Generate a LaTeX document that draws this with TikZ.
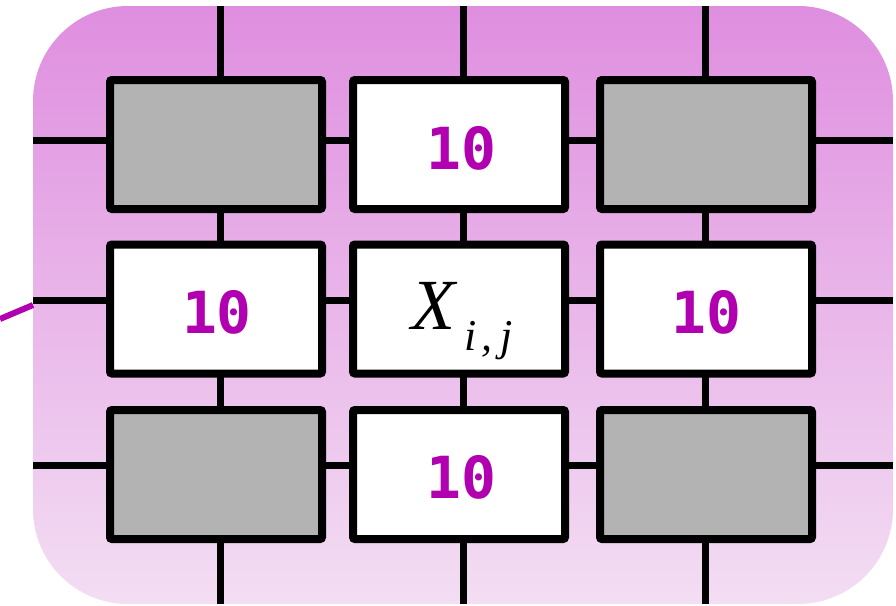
\documentclass[tikz,border=0pt]{standalone}
\usepackage{fontspec}
\setmainfont{Liberation Serif}
\newfontfamily\monofont{DejaVu Sans Mono}
\definecolor{bgtop}{RGB}{223,142,223}
\definecolor{bgbot}{RGB}{243,222,243}
\definecolor{cellgray}{RGB}{179,179,179}
\definecolor{mag}{RGB}{176,0,176}
\tikzset{
  cell/.style={draw=black, line width=8pt, rounded corners=2pt, minimum width=212pt, minimum height=129pt, inner sep=0pt, fill=white},
  graycell/.style={cell, fill=cellgray},
  gridline/.style={draw=black, line width=7pt},
  magline/.style={draw=mag, line width=6pt},
  ten/.style={text=mag, font=\monofont\bfseries\fontsize{58}{60}\selectfont}
}
\begin{document}
\begin{tikzpicture}[x=1pt,y=-1pt]
\useasboundingbox (0,0) rectangle (896,605);
\shade[top color=bgtop, bottom color=bgbot, rounded corners=95pt] (33,6) rectangle (893,604);
% grid lines
\foreach \yy in {140,300,465} {\draw[gridline] (33,\yy) -- (893,\yy);}
\foreach \xx in {220,463,705} {\draw[gridline] (\xx,6) -- (\xx,604);}
% left magenta line
\coordinate (m0) at (0,319);
\coordinate (m1) at (33,305);
\draw[magline] (m0) -- (m1);
% cells
\node[graycell] (c11) at (216,144.5) {};
\node[cell]     (c12) at (459,144.5) {};
\node[graycell] (c13) at (706,144.5) {};
\node[cell]     (c21) at (216,309) {};
\node[cell]     (c22) at (459,309) {};
\node[cell]     (c23) at (706,309) {};
\node[graycell] (c31) at (216,474.5) {};
\node[cell]     (c32) at (459,474.5) {};
\node[graycell] (c33) at (706,474.5) {};
% labels
\node[ten] (t12) at (461,148) {10};
\node[ten] (t21) at (217,312) {10};
\node[ten] (t23) at (706,312) {10};
\node[ten] (t32) at (461,477) {10};
\node[inner sep=0pt, anchor=base west] (x22) at (411,329) {\fontsize{72}{74}\selectfont\itshape X\hspace{9pt}\raisebox{-21pt}{\fontsize{44}{46}\selectfont\itshape i\hspace{5pt},\hspace{8pt}j}};
\end{tikzpicture}
\end{document}
